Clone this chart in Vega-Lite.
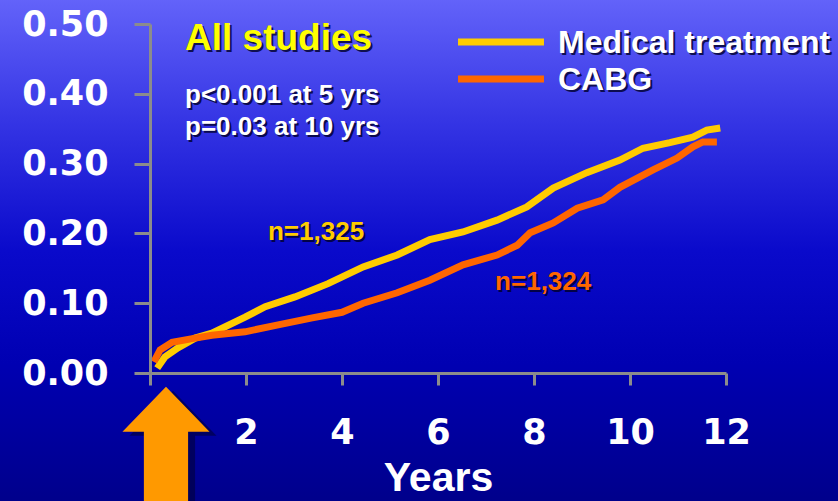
{
  "$schema": "https://vega.github.io/schema/vega-lite/v6.json",
  "width": 576,
  "height": 349,
  "autosize": {"type": "none"},
  "padding": {"left": 150, "top": 24, "right": 112, "bottom": 128},
  "background": "#000090",
  "config": {
    "view": {"stroke": null},
    "axis": {
      "grid": false,
      "labelFlush": false,
      "labelOverlap": false,
      "domainColor": "#8c8c8c",
      "domainWidth": 3,
      "tickColor": "#8c8c8c",
      "tickWidth": 3,
      "labelColor": "#ffffff",
      "labelFont": "DejaVu Sans",
      "labelFontWeight": "bold",
      "titleColor": "#ffffff",
      "titleFont": "Liberation Sans",
      "titleFontWeight": "bold"
    }
  },
  "datasets": {
    "curves": [
      {"series": "Medical treatment", "year": 0.15, "risk": 0.007},
      {"series": "Medical treatment", "year": 0.31, "risk": 0.023},
      {"series": "Medical treatment", "year": 0.58, "risk": 0.036},
      {"series": "Medical treatment", "year": 0.94, "risk": 0.05},
      {"series": "Medical treatment", "year": 1.29, "risk": 0.057},
      {"series": "Medical treatment", "year": 1.98, "risk": 0.08},
      {"series": "Medical treatment", "year": 2.4, "risk": 0.095},
      {"series": "Medical treatment", "year": 3.02, "risk": 0.109},
      {"series": "Medical treatment", "year": 3.71, "risk": 0.128},
      {"series": "Medical treatment", "year": 4.44, "risk": 0.152},
      {"series": "Medical treatment", "year": 5.15, "risk": 0.169},
      {"series": "Medical treatment", "year": 5.83, "risk": 0.191},
      {"series": "Medical treatment", "year": 6.52, "risk": 0.202},
      {"series": "Medical treatment", "year": 7.23, "risk": 0.219},
      {"series": "Medical treatment", "year": 7.85, "risk": 0.238},
      {"series": "Medical treatment", "year": 8.4, "risk": 0.265},
      {"series": "Medical treatment", "year": 9.1, "risk": 0.287},
      {"series": "Medical treatment", "year": 9.79, "risk": 0.305},
      {"series": "Medical treatment", "year": 10.27, "risk": 0.322},
      {"series": "Medical treatment", "year": 10.83, "risk": 0.33},
      {"series": "Medical treatment", "year": 11.31, "risk": 0.338},
      {"series": "Medical treatment", "year": 11.6, "risk": 0.348},
      {"series": "Medical treatment", "year": 11.88, "risk": 0.351},
      {"series": "CABG", "year": 0.08, "risk": 0.016},
      {"series": "CABG", "year": 0.21, "risk": 0.033},
      {"series": "CABG", "year": 0.46, "risk": 0.044},
      {"series": "CABG", "year": 0.94, "risk": 0.05},
      {"series": "CABG", "year": 1.29, "risk": 0.054},
      {"series": "CABG", "year": 1.98, "risk": 0.059},
      {"series": "CABG", "year": 2.67, "risk": 0.069},
      {"series": "CABG", "year": 3.38, "risk": 0.079},
      {"series": "CABG", "year": 4.0, "risk": 0.087},
      {"series": "CABG", "year": 4.44, "risk": 0.1},
      {"series": "CABG", "year": 5.15, "risk": 0.115},
      {"series": "CABG", "year": 5.83, "risk": 0.133},
      {"series": "CABG", "year": 6.52, "risk": 0.155},
      {"series": "CABG", "year": 7.23, "risk": 0.169},
      {"series": "CABG", "year": 7.65, "risk": 0.183},
      {"series": "CABG", "year": 7.92, "risk": 0.201},
      {"series": "CABG", "year": 8.4, "risk": 0.215},
      {"series": "CABG", "year": 8.9, "risk": 0.236},
      {"series": "CABG", "year": 9.44, "risk": 0.248},
      {"series": "CABG", "year": 9.79, "risk": 0.266},
      {"series": "CABG", "year": 10.48, "risk": 0.291},
      {"series": "CABG", "year": 10.98, "risk": 0.308},
      {"series": "CABG", "year": 11.31, "risk": 0.324},
      {"series": "CABG", "year": 11.52, "risk": 0.331},
      {"series": "CABG", "year": 11.81, "risk": 0.331}
    ]
  },
  "layer": [
    {
      "description": "slide backdrop: vertical blue gradient behind everything; also owns the axes",
      "data": {"values": [{}]},
      "mark": {
        "type": "rect",
        "fill": {
          "gradient": "linear", "x1": 0, "y1": 0, "x2": 0, "y2": 1,
          "stops": [
            {"offset": 0, "color": "#6464fa"},
            {"offset": 0.25, "color": "#3434e4"},
            {"offset": 0.5, "color": "#0a0acb"},
            {"offset": 0.72, "color": "#0000b2"},
            {"offset": 1, "color": "#00008a"}
          ]
        }
      },
      "encoding": {
        "x": {
          "datum": -3.2, "type": "quantitative",
          "scale": {"domain": [0, 12], "nice": false},
          "axis": {
            "zindex": 2,
            "values": [0, 2, 4, 6, 8, 10, 12],
            "labelExpr": "datum.value == 0 ? '' : datum.label",
            "labelFontSize": 35,
            "labelPadding": 30,
            "tickSize": 12,
            "title": "Years",
            "titleFontSize": 41,
            "titlePadding": 8
          }
        },
        "x2": {"datum": 14.4},
        "y": {
          "datum": 0.54, "type": "quantitative",
          "scale": {"domain": [0, 0.5], "nice": false},
          "axis": {
            "zindex": 2,
            "values": [0, 0.1, 0.2, 0.3, 0.4, 0.5],
            "format": ".2f",
            "labelFontSize": 35,
            "labelPadding": 26,
            "tickSize": 16,
            "title": null
          }
        },
        "y2": {"datum": -0.19}
      }
    },
    {
      "data": {"name": "curves"},
      "transform": [{"filter": "datum.series == 'Medical treatment'"}],
      "mark": {"type": "line", "color": "#ffcc00", "strokeWidth": 7, "strokeJoin": "miter"},
      "encoding": {
        "x": {"field": "year", "type": "quantitative", "scale": {"domain": [0, 12], "nice": false}},
        "y": {"field": "risk", "type": "quantitative", "scale": {"domain": [0, 0.5], "nice": false}}
      }
    },
    {
      "data": {"name": "curves"},
      "transform": [{"filter": "datum.series == 'CABG'"}],
      "mark": {"type": "line", "color": "#ff6600", "strokeWidth": 7, "strokeJoin": "miter"},
      "encoding": {
        "x": {"field": "year", "type": "quantitative", "scale": {"domain": [0, 12], "nice": false}},
        "y": {"field": "risk", "type": "quantitative", "scale": {"domain": [0, 0.5], "nice": false}}
      }
    },
    {
      "description": "legend swatches",
      "data": {"values": [{"series": "Medical treatment", "pos": 0.4742}, {"series": "CABG", "pos": 0.4212}]},
      "mark": {"type": "rule", "strokeWidth": 7},
      "encoding": {
        "x": {"datum": 6.417, "type": "quantitative", "scale": {"domain": [0, 12], "nice": false}},
        "x2": {"datum": 8.208},
        "y": {"field": "pos", "type": "quantitative", "scale": {"domain": [0, 0.5], "nice": false}},
        "color": {"field": "series", "type": "nominal", "scale": {"domain": ["Medical treatment", "CABG"], "range": ["#ffcc00", "#ff6600"]}, "legend": null}
      }
    },
    {
      "description": "legend labels, shadow then text",
      "data": {"values": [{"series": "Medical treatment", "pos": 0.4585}, {"series": "CABG", "pos": 0.4054}]},
      "layer": [
        {"mark": {"type": "text", "align": "left", "baseline": "alphabetic", "font": "Liberation Sans", "fontWeight": "bold", "fontSize": 32, "color": "#00002a", "opacity": 0.8, "dx": 2, "dy": 2}},
        {"mark": {"type": "text", "align": "left", "baseline": "alphabetic", "font": "Liberation Sans", "fontWeight": "bold", "fontSize": 32, "color": "#ffffff"}}
      ],
      "encoding": {
        "x": {"datum": 8.5, "type": "quantitative", "scale": {"domain": [0, 12], "nice": false}},
        "y": {"field": "pos", "type": "quantitative", "scale": {"domain": [0, 0.5], "nice": false}},
        "text": {"field": "series"}
      }
    },
    {
      "description": "heading",
      "data": {"values": [{"label": "All studies"}]},
      "layer": [
        {"mark": {"type": "text", "align": "left", "baseline": "alphabetic", "font": "Liberation Sans", "fontWeight": "bold", "fontSize": 37, "color": "#00002a", "opacity": 0.8, "dx": 2, "dy": 2}},
        {"mark": {"type": "text", "align": "left", "baseline": "alphabetic", "font": "Liberation Sans", "fontWeight": "bold", "fontSize": 37, "color": "#ffff00"}}
      ],
      "encoding": {
        "x": {"datum": 0.73, "type": "quantitative", "scale": {"domain": [0, 12], "nice": false}},
        "y": {"datum": 0.4628, "type": "quantitative", "scale": {"domain": [0, 0.5], "nice": false}},
        "text": {"field": "label"}
      }
    },
    {
      "description": "p-values",
      "data": {"values": [{"label": "p<0.001 at 5 yrs", "pos": 0.3868}, {"label": "p=0.03 at 10 yrs", "pos": 0.341}]},
      "layer": [
        {"mark": {"type": "text", "align": "left", "baseline": "alphabetic", "font": "Liberation Sans", "fontWeight": "bold", "fontSize": 26, "color": "#00002a", "opacity": 0.8, "dx": 2, "dy": 2}},
        {"mark": {"type": "text", "align": "left", "baseline": "alphabetic", "font": "Liberation Sans", "fontWeight": "bold", "fontSize": 26, "color": "#ffffff"}}
      ],
      "encoding": {
        "x": {"datum": 0.73, "type": "quantitative", "scale": {"domain": [0, 12], "nice": false}},
        "y": {"field": "pos", "type": "quantitative", "scale": {"domain": [0, 0.5], "nice": false}},
        "text": {"field": "label"}
      }
    },
    {
      "description": "group sizes beside each curve",
      "data": {"values": [
        {"label": "n=1,325", "series": "Medical treatment", "at": 2.458, "pos": 0.1905},
        {"label": "n=1,324", "series": "CABG", "at": 7.19, "pos": 0.1189}
      ]},
      "layer": [
        {"mark": {"type": "text", "align": "left", "baseline": "alphabetic", "font": "Liberation Sans", "fontWeight": "bold", "fontSize": 26, "color": "#00002a", "opacity": 0.8, "dx": 2, "dy": 2}},
        {
          "mark": {"type": "text", "align": "left", "baseline": "alphabetic", "font": "Liberation Sans", "fontWeight": "bold", "fontSize": 26},
          "encoding": {"color": {"field": "series", "type": "nominal", "scale": {"domain": ["Medical treatment", "CABG"], "range": ["#ffcc00", "#ff6600"]}, "legend": null}}
        }
      ],
      "encoding": {
        "x": {"field": "at", "type": "quantitative", "scale": {"domain": [0, 12], "nice": false}},
        "y": {"field": "pos", "type": "quantitative", "scale": {"domain": [0, 0.5], "nice": false}},
        "text": {"field": "label"}
      }
    },
    {
      "description": "upward arrow marking the start of follow-up",
      "data": {"values": [{}]},
      "layer": [
        {"mark": {"type": "point", "filled": true, "opacity": 0.55, "color": "#000030", "strokeWidth": 0, "size": 16900, "xOffset": 7, "yOffset": 4,
          "shape": "M0,-1L0.67,-0.31L0.34,-0.31L0.34,1L-0.34,1L-0.34,-0.31L-0.67,-0.31Z"}},
        {"mark": {"type": "point", "filled": true, "opacity": 1, "color": "#ff9900", "strokeWidth": 0, "size": 16900,
          "shape": "M0,-1L0.67,-0.31L0.34,-0.31L0.34,1L-0.34,1L-0.34,-0.31L-0.67,-0.31Z"}}
      ],
      "encoding": {
        "x": {"datum": 0.333, "type": "quantitative", "scale": {"domain": [0, 12], "nice": false}},
        "y": {"datum": -0.113, "type": "quantitative", "scale": {"domain": [0, 0.5], "nice": false}}
      }
    }
  ]
}
